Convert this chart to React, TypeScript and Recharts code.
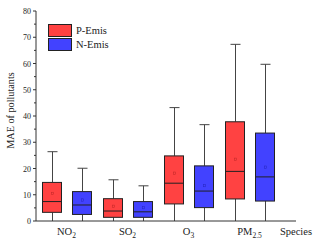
import React from 'react';
import { ComposedChart, Bar, XAxis, YAxis, Legend } from 'recharts';

const categories = ['NO2', 'SO2', 'O3', 'PM2.5'];
const pMin = [0, 0, 0, 0];
const pQ1 = [3.3, 1.4, 6.5, 8.4];
const pMed = [7.4, 3.8, 14.4, 18.9];
const pQ3 = [14.7, 8.5, 24.8, 37.8];
const pMax = [26.4, 15.7, 43.2, 67.3];
const pMean = [10.5, 5.6, 18.2, 23.5];
const nMin = [0, 0, 0, 0];
const nQ1 = [2.5, 1.4, 5.1, 7.6];
const nMed = [6.1, 3.5, 11.4, 16.8];
const nQ3 = [11.2, 7.4, 21.0, 33.5];
const nMax = [20.1, 13.4, 36.7, 59.7];
const nMean = [8.0, 5.1, 13.5, 20.5];
const yTicks = [0, 5, 10, 15, 20, 25, 30, 35, 40, 45, 50, 55, 60, 65, 70, 75, 80];

const data = categories.map((c, i) => ({
  cat: c,
  pMin: pMin[i], pQ1: pQ1[i], pMed: pMed[i], pQ3: pQ3[i], pMax: pMax[i], pMean: pMean[i],
  nMin: nMin[i], nQ1: nQ1[i], nMed: nMed[i], nQ3: nQ3[i], nMax: nMax[i], nMean: nMean[i],
}));

const FONT = '"Liberation Serif", "Times New Roman", serif';
const RED = '#FF4242';
const BLUE = '#4242FF';

const BoxShape = (props: any) => {
  const { x, y, width, height, payload, prefix, color, markColor } = props;
  const max = payload[prefix + 'Max'];
  const min = payload[prefix + 'Min'];
  const k = height / (max - min);
  const Y = (v: number) => y + (max - v) * k;
  const cx = Math.round(x + width / 2) + 0.5;
  const bx = Math.round(x) + 0.5;
  const bw = Math.round(width) - 1;
  const q1 = Y(payload[prefix + 'Q1']);
  const q3 = Y(payload[prefix + 'Q3']);
  const med = Y(payload[prefix + 'Med']);
  const mean = Y(payload[prefix + 'Mean']);
  const top = Y(max);
  const bot = Y(min);
  return (
    <g>
      <line x1={cx} x2={cx} y1={top} y2={q3} stroke="#444" strokeWidth={1} />
      <line x1={cx} x2={cx} y1={q1} y2={bot} stroke="#444" strokeWidth={1} />
      <line x1={cx - 5} x2={cx + 5} y1={top} y2={top} stroke="#444" strokeWidth={1} />
      <rect x={bx} y={q3} width={bw} height={q1 - q3} fill={color} stroke="#222" strokeWidth={1} />
      <line x1={bx} x2={bx + bw} y1={med} y2={med} stroke="#222" strokeWidth={1} />
      <rect x={cx - 1.2} y={mean - 1.2} width={2.4} height={2.4} fill="none" stroke={markColor} strokeWidth={0.5} strokeOpacity={0.55} />
    </g>
  );
};

const YTick = (props: any) => {
  const { x, y, payload } = props;
  const major = payload.value % 10 === 0;
  return (
    <g>
      <line x1={x - (major ? 3 : 2)} x2={x} y1={y} y2={y} stroke="#333" strokeWidth={1} />
      {major && (
        <text x={x - 5} y={y + 3} textAnchor="end" fontSize={8} fontFamily={FONT} fill="#222">
          {payload.value}
        </text>
      )}
    </g>
  );
};

const XTick = (props: any) => {
  const { x, y, payload } = props;
  const v: string = payload.value;
  let main = v;
  let sub = '';
  if (v === 'NO2') { main = 'NO'; sub = '2'; }
  else if (v === 'SO2') { main = 'SO'; sub = '2'; }
  else if (v === 'O3') { main = 'O'; sub = '3'; }
  else if (v === 'PM2.5') { main = 'PM'; sub = '2.5'; }
  return (
    <text x={x} y={y + 14} textAnchor="middle" fontSize={10.5} fontFamily={FONT} fill="#222">
      <tspan>{main}</tspan>
      <tspan fontSize={7.5} dy={2.5}>{sub}</tspan>
    </text>
  );
};

const LegendContent = () => (
  <div style={{ fontFamily: FONT, fontSize: 10.5, color: '#222' }}>
    {[{ c: RED, t: 'P-Emis' }, { c: BLUE, t: 'N-Emis' }].map((e) => (
      <div key={e.t} style={{ display: 'flex', alignItems: 'center', height: 14 }}>
        <div style={{ width: 22, height: 11, background: e.c, border: '1px solid #222', marginRight: 4 }} />
        <span>{e.t}</span>
      </div>
    ))}
  </div>
);

export default function App() {
  return (
    <div style={{ position: 'absolute', left: 0, top: 0, width: 320, height: 246, background: '#fff' }}>
      <ComposedChart
        width={320}
        height={246}
        data={data}
        margin={{ top: 11, right: 24, bottom: 5, left: 0 }}
        barGap={10}
        barSize={20}
      >
        <XAxis
          dataKey="cat"
          height={20}
          padding={{ left: 0, right: 16 }}
          tickLine={false}
          tickSize={0}
          tickMargin={0}
          axisLine={{ stroke: '#333' }}
          tick={<XTick />}
          interval={0}
          label={(p: any) => {
            const vb = p.viewBox;
            return (
              <text x={vb.x + vb.width} y={vb.y + 14} textAnchor="middle" fontSize={10.5} fontFamily={FONT} fill="#222">
                Species
              </text>
            );
          }}
        />
        <XAxis xAxisId="top" dataKey="cat" orientation="top" height={0} tick={false} tickLine={false} axisLine={{ stroke: '#333' }} />
        <YAxis
          width={36}
          domain={[0, 80]}
          ticks={yTicks}
          interval={0}
          tickLine={false}
          tickSize={0}
          tickMargin={0}
          axisLine={{ stroke: '#333' }}
          tick={<YTick />}
          label={() => (
            <text transform="translate(14,110.5) rotate(-90)" textAnchor="middle" fontSize={10.2} fontFamily={FONT} fill="#222">
              MAE of pollutants
            </text>
          )}
        />
        <YAxis yAxisId="right" orientation="right" width={0} domain={[0, 80]} tick={false} tickLine={false} axisLine={{ stroke: '#333' }} />
        <Legend
          layout="vertical"
          align="center"
          verticalAlign="middle"
          wrapperStyle={{ left: 48, top: 23, width: 90, height: 30 }}
          content={<LegendContent />}
        />
        <Bar
          name="P-Emis"
          dataKey={(d: any) => [d.pMin, d.pMax]}
          fill={RED}
          isAnimationActive={false}
          shape={(p: any) => <BoxShape {...p} prefix="p" color={RED} markColor="#8a1010" />}
        />
        <Bar
          name="N-Emis"
          dataKey={(d: any) => [d.nMin, d.nMax]}
          fill={BLUE}
          isAnimationActive={false}
          shape={(p: any) => <BoxShape {...p} prefix="n" color={BLUE} markColor="#10108a" />}
        />
      </ComposedChart>
    </div>
  );
}
